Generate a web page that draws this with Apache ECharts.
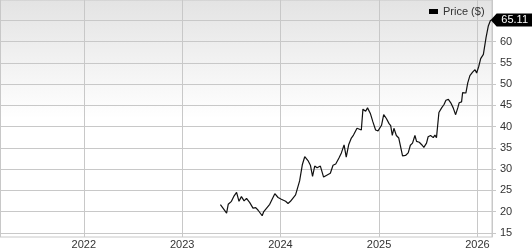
<!DOCTYPE html>
<html>
<head>
<meta charset="utf-8">
<script src="https://cdn.jsdelivr.net/npm/echarts@6/dist/echarts.min.js"></script>
<style>
html,body{margin:0;padding:0;background:#fff;}
#c{width:532px;height:250px;}
</style>
</head>
<body>
<div id="c"></div>
<script>
var seriesName = 'Price ($)';
var xMin = '2021-02-24';
var xMax = '2026-02-24';
var yTicks = [15, 20, 25, 30, 35, 40, 45, 50, 55, 60, 65];
var yLabels = [15, 20, 25, 30, 35, 40, 45, 50, 55, 60];
var dates = [
 '2023-05-23','2023-06-05','2023-06-15','2023-06-21','2023-07-03','2023-07-13','2023-07-22','2023-07-31',
 '2023-08-09','2023-08-19','2023-08-28','2023-09-09','2023-09-21','2023-10-01','2023-10-10','2023-10-16',
 '2023-10-25','2023-10-31','2023-11-07','2023-11-22','2023-12-11','2023-12-23',
 '2024-01-04','2024-01-20','2024-01-29','2024-02-07','2024-02-14','2024-02-26','2024-03-04','2024-03-12',
 '2024-03-22','2024-03-31','2024-04-12','2024-04-21','2024-04-29','2024-05-07','2024-05-16','2024-05-28',
 '2024-06-09','2024-06-19','2024-07-04','2024-07-14','2024-07-24','2024-08-05','2024-08-14','2024-08-24',
 '2024-09-01','2024-09-10','2024-09-20','2024-09-28','2024-10-11','2024-10-27','2024-11-02','2024-11-12',
 '2024-11-19','2024-11-30','2024-12-09','2024-12-19','2024-12-28',
 '2025-01-03','2025-01-10','2025-01-18','2025-01-28','2025-02-07','2025-02-13','2025-02-19','2025-02-25',
 '2025-03-06','2025-03-15','2025-03-21','2025-03-29','2025-04-09','2025-04-19','2025-04-27','2025-05-05',
 '2025-05-14','2025-05-20','2025-05-30','2025-06-10','2025-06-16','2025-06-26','2025-07-02','2025-07-11',
 '2025-07-21','2025-07-27','2025-08-02','2025-08-11','2025-08-21','2025-08-30','2025-09-06','2025-09-15',
 '2025-09-24','2025-10-03','2025-10-12','2025-10-20','2025-10-25','2025-11-03','2025-11-07','2025-11-19',
 '2025-11-26','2025-12-04','2025-12-14','2025-12-23','2025-12-29',
 '2026-01-06','2026-01-13','2026-01-23','2026-02-02','2026-02-10','2026-02-19'
];
var prices = [
 21.6,20.5,19.6,21.7,22.4,23.7,24.5,22.4,
 23.5,22.5,23.1,22.1,20.8,20.9,20.3,20.2,
 19.0,20.0,19.6,21.7,24.2,23.3,
 22.9,22.4,21.9,22.4,22.7,23.9,24.2,27.2,
 31.0,32.9,32.0,30.9,28.3,30.7,30.3,30.7,
 28.1,28.5,29.0,30.9,31.2,32.6,33.8,35.7,
 32.8,35.7,37.3,38.0,39.6,39.2,44.1,43.6,
 44.4,43.0,41.1,39.2,39.0,
 39.2,40.3,42.8,41.9,40.7,40.2,37.9,39.6,
 37.9,37.3,37.4,33.1,33.2,33.8,35.6,36.1,
 37.9,36.5,36.3,35.6,35.1,36.1,37.6,37.9,
 37.4,38.0,37.4,43.3,44.4,45.2,46.2,46.4,
 45.6,44.4,42.8,44.4,45.6,45.8,48.0,47.9,
 50.3,52.0,52.8,53.4,52.6,
 54.2,56.0,57.0,61.0,63.6,65.11
];

var data = dates.map(function (d, i) { return [d, prices[i]]; });
var last = data[data.length - 1];
var font = 'Liberation Sans, Arial, Helvetica, sans-serif';
var YEAR = 365 * 24 * 3600 * 1000;

var chart = echarts.init(document.getElementById('c'), null, {renderer: 'canvas'});
chart.setOption({
  animation: false,
  textStyle: {fontFamily: font},
  grid: {
    left: 0, right: 40, top: 0, bottom: 10,
    show: true,
    borderColor: '#c8c8c8',
    borderWidth: 1,
    backgroundColor: {
      type: 'linear', x: 0, y: 0, x2: 0, y2: 1,
      colorStops: [
        {offset: 0, color: '#e3e3e3'},
        {offset: 0.5, color: '#ffffff'},
        {offset: 1, color: '#ffffff'}
      ]
    }
  },
  legend: {
    data: [seriesName],
    left: 429, top: 6, padding: 0,
    itemWidth: 9, itemHeight: 5, itemGap: 5,
    icon: 'rect',
    textStyle: {fontSize: 11, color: '#333', fontFamily: font}
  },
  xAxis: {
    type: 'time',
    min: xMin, max: xMax,
    minInterval: YEAR, maxInterval: YEAR * 1.01,
    axisLine: {show: false},
    axisTick: {show: false},
    axisLabel: {
      formatter: '{yyyy}', fontSize: 11, color: '#333', margin: 2,
      showMinLabel: false, showMaxLabel: false, fontFamily: font
    },
    splitLine: {show: true, lineStyle: {color: '#c8c8c8', width: 1}}
  },
  yAxis: {
    type: 'value',
    position: 'right',
    min: 14, max: 69.8,
    axisLine: {show: true, lineStyle: {color: '#c8c8c8'}},
    axisTick: {show: true, length: 4, lineStyle: {color: '#c8c8c8'}, customValues: yTicks},
    axisLabel: {
      show: true, customValues: yLabels,
      fontSize: 11, color: '#333', margin: 8, fontFamily: font
    },
    splitLine: {show: true, lineStyle: {color: '#c8c8c8', width: 1}}
  },
  series: [{
    name: seriesName,
    type: 'line',
    data: data,
    showSymbol: false,
    symbol: 'none',
    itemStyle: {color: '#000'},
    lineStyle: {color: '#111', width: 1.2},
    markPoint: {
      silent: true,
      symbol: 'path://M0,7 L6,0 L42,0 L42,14 L6,14 Z',
      symbolSize: [42, 13],
      symbolOffset: [21, 0],
      itemStyle: {color: '#000'},
      label: {show: true, color: '#fff', fontSize: 11, fontFamily: font, offset: [3, 0],
        formatter: function (p) { return p.value.toFixed(2); }},
      data: [{coord: last, value: last[1]}]
    }
  }]
});
</script>
</body>
</html>
